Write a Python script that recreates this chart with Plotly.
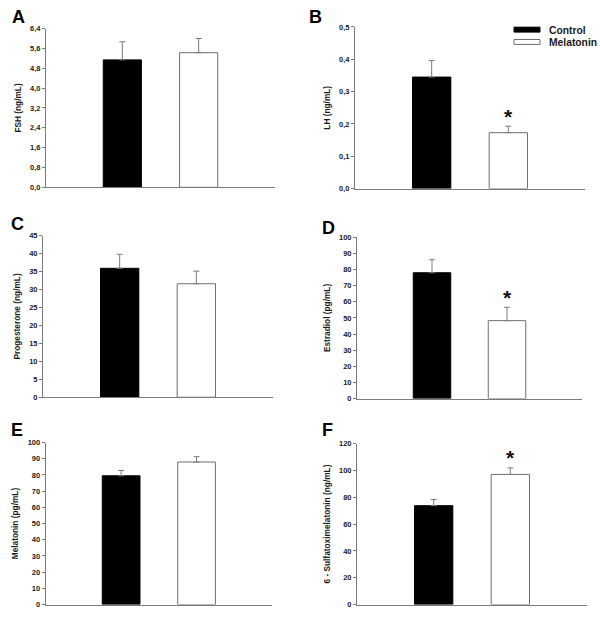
import plotly.graph_objects as go

# ---------------- data ----------------
groups = ["Control", "Melatonin"]
panel_letters = ["A", "B", "C", "D", "E", "F"]
y_titles = ["FSH (ng/mL)", "LH (ng/mL)", "Progesterone (ng/mL)",
            "Estradiol (pg/mL)", "Melatonin (pg/mL)",
            "6 - Sulfatoximelatonin (ng/mL)"]

fsh_mean = [5.14, 5.43]
fsh_sem = [0.73, 0.57]
lh_mean = [0.345, 0.173]
lh_sem = [0.051, 0.020]
prog_mean = [35.9, 31.6]
prog_sem = [3.9, 3.5]
estr_mean = [78.0, 48.3]
estr_sem = [8.1, 8.3]
mel_mean = [79.5, 88.0]
mel_sem = [3.3, 3.3]
smel_mean = [73.7, 97.0]
smel_sem = [4.6, 4.9]

significant = [[False, False], [False, True], [False, False],
               [False, True], [False, False], [False, True]]

y_max = [6.4, 0.5, 45, 100, 100, 120]
y_step = [0.8, 0.1, 5, 10, 10, 20]
decimals = [1, 1, 0, 0, 0, 0]

means = [fsh_mean, lh_mean, prog_mean, estr_mean, mel_mean, smel_mean]
sems = [fsh_sem, lh_sem, prog_sem, estr_sem, mel_sem, smel_sem]

# ---------------- layout constants ----------------
W, H = 600, 625
FONT = "Liberation Sans, Arial, sans-serif"
AX_COL = "#7a7a7a"
TXT_COL = "#1a1a1a"
# plot area in pixels: x0, x1, ytop, ybottom
panel_px = [(46, 275, 25, 186), (355, 585, 23.3, 187.3),
            (43, 273, 235, 399), (357, 582, 236.7, 400.3),
            (45.7, 272, 445, 609.3), (357, 587, 446, 609.3)]
letter_px = [(18, 13), (315.5, 13), (17, 223), (328, 227), (17, 432), (327.5, 432)]

fill_colors = ["#000000", "#ffffff"]
line_colors = ["#000000", "#6e6e6e"]

fig = go.Figure()
layout = dict(width=W, height=H, margin=dict(l=0, r=0, t=0, b=0),
              paper_bgcolor="white", plot_bgcolor="white",
              showlegend=False, barmode="overlay",
              font=dict(family=FONT, color=TXT_COL))
annotations = []
shapes = []

for p in range(6):
    sfx = "" if p == 0 else str(p + 1)
    xa, ya = "x" + sfx, "y" + sfx
    x0, x1, yt, yb = panel_px[p]
    for g in range(2):
        fig.add_trace(go.Bar(
            x=[g], y=[means[p][g]], width=0.5, name=groups[g],
            xaxis=xa, yaxis=ya,
            marker=dict(color=fill_colors[g],
                        line=dict(color=line_colors[g], width=1)),
            error_y=dict(type="data", array=[sems[p][g]], arrayminus=[0],
                         symmetric=False, color=AX_COL, thickness=1, width=3),
        ))
        if significant[p][g]:
            annotations.append(dict(
                x=g, y=means[p][g] + sems[p][g], xref=xa, yref=ya,
                text="<b>*</b>", showarrow=False, yanchor="middle",
                yshift=10, font=dict(size=21, family=FONT, color="#111")))
    n = int(round(y_max[p] / y_step[p]))
    vals = [round(i * y_step[p], 4) for i in range(n + 1)]
    texts = [(f"{v:.{decimals[p]}f}").replace(".", ",") for v in vals]
    layout["xaxis" + sfx] = dict(
        domain=[x0 / W, x1 / W], range=[-1, 2], anchor=ya,
        showline=True, linecolor=AX_COL, linewidth=1,
        showticklabels=False, ticks="", showgrid=False, zeroline=False,
        fixedrange=True)
    layout["yaxis" + sfx] = dict(
        domain=[1 - yb / H, 1 - yt / H], range=[0, y_max[p]], anchor=xa,
        showline=True, linecolor=AX_COL, linewidth=1,
        ticks="outside", ticklen=3, tickcolor=AX_COL, tickwidth=1,
        tickvals=vals, ticktext=[f"<b>{t}</b>" for t in texts],
        tickfont=dict(size=7.5, family=FONT, color=TXT_COL),
        showgrid=False, zeroline=False, fixedrange=True,
        title=dict(text=f"<b>{y_titles[p]}</b>", standoff=7,
                   font=dict(size=8.3, family=FONT, color=TXT_COL)))
    lx, ly = letter_px[p]
    annotations.append(dict(
        x=lx / W, y=1 - ly / H, xref="paper", yref="paper",
        text=f"<b>{panel_letters[p]}</b>", showarrow=False,
        xanchor="center", yanchor="middle",
        font=dict(size=18, family=FONT, color="#000")))

# legend (panel B)
for g, yc in enumerate([26, 38.5]):
    shapes.append(dict(type="rect", xref="paper", yref="paper",
                       x0=514 / W, x1=540 / W,
                       y0=1 - (yc + 2.5) / H, y1=1 - (yc - 2.5) / H,
                       fillcolor=fill_colors[g],
                       line=dict(color=line_colors[g] if g else "#000", width=1)))
    annotations.append(dict(x=547 / W, y=1 - (yc + 0.5) / H, xref="paper", yref="paper",
                            text=f"<b>{groups[g]}</b>", showarrow=False,
                            xanchor="left", yanchor="middle",
                            font=dict(size=10.3, family=FONT, color=TXT_COL)))

layout["annotations"] = annotations
layout["shapes"] = shapes
fig.update_layout(**layout)
fig.write_html("out.html", config={"displayModeBar": False},
               post_script="document.body.style.margin='0';document.body.style.overflow='hidden';")
